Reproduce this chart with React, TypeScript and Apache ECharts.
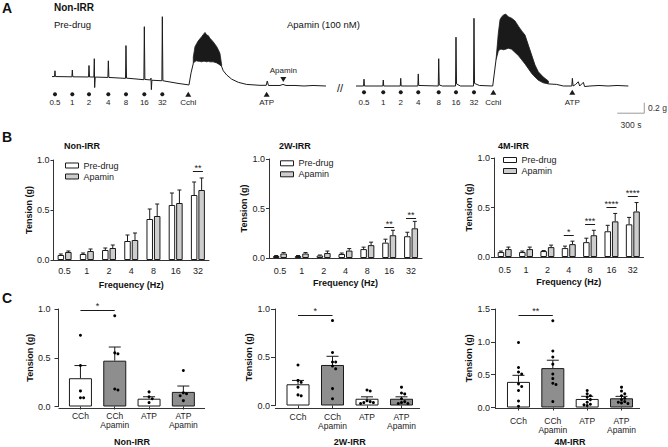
import React, { useEffect, useRef } from 'react';
import * as echarts from 'echarts';

const FONT = "'Liberation Sans', Arial, Helvetica, sans-serif";
const INK = '#1a1a1a';
const AXIS = '#333333';
const LIGHT_GREY = '#cdcdcd';
const DARK_GREY = '#8e8e8e';

// ---------------- Panel A: tension recordings (time in s, tension in g) ----------------
const stimFreqLabels = ['0.5', '1', '2', '4', '8', '16', '32'];

// Pre-drug recording
const preStimTimes = [33, 226, 411, 626, 822, 1026, 1226];
const preCchTime = 1514;
const preAtpTime = 2385;
const apaminAddTime = 2570;

const preTraceT = [0, 28, 33, 38, 221, 226, 231, 406, 411, 417, 465, 470, 474, 480, 621, 626, 632, 817, 822, 828, 1021, 1026, 1032, 1095, 1100, 1104, 1110, 1221, 1226, 1232, 1300, 1400, 1522, 1545, 1570];
const preTraceG = [0.18, 0.18, 0.29, 0.18, 0.175, 0.305, 0.175, 0.172, 0.39, 0.172, 0.17, 0.52, -0.03, 0.17, 0.163, 0.48, 0.163, 0.145, 0.77, 0.15, 0.12, 1.13, 0.125, 0.115, 0.15, -0.07, 0.11, 0.1, 1.32, 0.1, 0.08, 0.05, 0.02, 0.25, 0.43];

const preBurstT = [1570, 1589, 1608, 1625, 1644, 1663, 1681, 1700, 1719, 1736, 1755, 1792, 1830, 1848, 1866, 1885];
const preBurstHigh = [0.55, 0.75, 0.81, 0.86, 0.9, 0.94, 0.98, 1.02, 0.97, 0.96, 0.91, 0.84, 0.75, 0.69, 0.62, 0.4];
const preBurstLow = [0.43, 0.47, 0.48, 0.47, 0.47, 0.46, 0.47, 0.47, 0.46, 0.47, 0.46, 0.46, 0.44, 0.42, 0.4, 0.37];

const preTailT = [1885, 1903, 1941, 1997, 2070, 2163, 2311, 2380, 2392, 2405, 2533, 2566, 2600, 2700, 2800, 2900, 3044];
const preTailG = [0.37, 0.29, 0.21, 0.13, 0.07, 0.03, 0.013, 0.013, 0.095, 0.01, 0.01, 0.03, 0.01, 0.01, 0.0, 0.01, 0.0];

// Apamin recording
const apaStimTimes = [89, 303, 497, 692, 919, 1111, 1311];
const apaCchTime = 1526;
const apaAtpTime = 2403;

const apaTraceT = [0, 84, 89, 94, 298, 303, 308, 492, 497, 502, 687, 692, 697, 914, 919, 925, 960, 1106, 1111, 1117, 1160, 1306, 1311, 1317, 1370, 1519, 1556];
const apaTraceG = [0, 0, 0.13, 0, 0, 0.114, 0, 0, 0.146, 0, 0, 0.23, 0.01, 0, 0.52, 0.02, 0, 0, 0.93, 0.04, 0, 0, 1.29, 0.05, 0.01, 0, 0.5];

const apaBurstT = [1556, 1581, 1600, 1619, 1637, 1663, 1692, 1730, 1767, 1804, 1841, 1878, 1915, 1952, 1989, 2026, 2081, 2137];
const apaBurstHigh = [0.5, 1.0, 1.26, 1.32, 1.35, 1.37, 1.32, 1.29, 1.24, 1.14, 1.05, 0.97, 0.78, 0.59, 0.4, 0.27, 0.17, 0.095];
const apaBurstLow = [0.5, 0.66, 0.7, 0.7, 0.69, 0.7, 0.72, 0.7, 0.64, 0.58, 0.5, 0.42, 0.33, 0.24, 0.17, 0.11, 0.06, 0.04];

const apaTailT = [2137, 2230, 2304, 2398, 2404, 2412, 2440, 2470, 2485, 2526, 2540, 2600, 2700, 2800, 2900, 3026];
const apaTailG = [0.04, 0.03, 0.0, 0.0, 0.146, 0.0, 0.03, 0.08, 0.0, 0.07, -0.01, 0.0, 0.01, 0.0, 0.01, 0.0];

// scale bar
const SCALE_SECONDS = 300;
const SCALE_GRAMS = 0.2;

// ---------------- Panel B: frequency response (mean, SEM) ----------------
const freqCats = ['0.5', '1', '2', '4', '8', '16', '32'];

const bNonIrrPre = [0.05, 0.06, 0.1, 0.19, 0.41, 0.55, 0.65];
const bNonIrrPreSem = [0.01, 0.01, 0.02, 0.06, 0.1, 0.12, 0.13];
const bNonIrrApa = [0.08, 0.09, 0.12, 0.2, 0.44, 0.57, 0.7];
const bNonIrrApaSem = [0.01, 0.02, 0.03, 0.07, 0.12, 0.13, 0.12];
const bNonIrrSig = [{ at: '32', label: '**' }];

const b2wPre = [0.02, 0.02, 0.025, 0.04, 0.09, 0.155, 0.22];
const b2wPreSem = [0.005, 0.005, 0.005, 0.01, 0.02, 0.035, 0.04];
const b2wApa = [0.045, 0.045, 0.05, 0.075, 0.13, 0.23, 0.3];
const b2wApaSem = [0.01, 0.01, 0.02, 0.02, 0.03, 0.05, 0.07];
const b2wSig = [{ at: '16', label: '**' }, { at: '32', label: '**' }];

const b4mPre = [0.05, 0.05, 0.06, 0.09, 0.15, 0.26, 0.33];
const b4mPreSem = [0.01, 0.01, 0.005, 0.02, 0.04, 0.06, 0.07];
const b4mApa = [0.08, 0.08, 0.1, 0.13, 0.22, 0.36, 0.46];
const b4mApaSem = [0.02, 0.02, 0.02, 0.03, 0.05, 0.08, 0.09];
const b4mSig = [
  { at: '4', label: '*' },
  { at: '8', label: '***' },
  { at: '16', label: '****' },
  { at: '32', label: '****' },
];

// ---------------- Panel C: CCh / ATP responses ----------------
const cCats = ['CCh', 'CCh\nApamin', 'ATP', 'ATP\nApamin'];

const cNonIrrMean = [0.29, 0.47, 0.08, 0.15];
const cNonIrrSem = [0.13, 0.14, 0.02, 0.06];
const cNonIrrPoints = [
  [0.73, 0.42, 0.16, 0.09, 0.09],
  [0.93, 0.55, 0.54, 0.18, 0.17],
  [0.15, 0.1, 0.08, 0.04],
  [0.37, 0.14, 0.13, 0.11, 0.06],
];
const cNonIrrSig = '*';

const c2wMean = [0.22, 0.42, 0.07, 0.07];
const c2wSem = [0.04, 0.09, 0.02, 0.02];
const c2wPoints = [
  [0.42, 0.26, 0.24, 0.19, 0.11, 0.1],
  [0.88, 0.55, 0.45, 0.45, 0.41, 0.38, 0.175, 0.07],
  [0.16, 0.15, 0.05, 0.04, 0.03, 0.03, 0.02],
  [0.19, 0.13, 0.12, 0.07, 0.04, 0.03, 0.02, 0.02],
];
const c2wSig = '*';

const c4mMean = [0.39, 0.6, 0.13, 0.14];
const c4mSem = [0.1, 0.12, 0.04, 0.03];
const c4mPoints = [
  [0.99, 0.61, 0.54, 0.51, 0.36, 0.32, 0.26, 0.1, 0.02],
  [1.32, 0.86, 0.77, 0.66, 0.51, 0.44, 0.37, 0.35, 0.09],
  [0.26, 0.21, 0.18, 0.16, 0.12, 0.08, 0.05, 0.04, 0.03],
  [0.31, 0.25, 0.21, 0.18, 0.14, 0.12, 0.09, 0.08, 0.07, 0.06],
];
const c4mSig = '**';

// ---------------- layout ----------------
const A_TOP = 12.5;
const A_HEIGHT = 105;
const A_MIN = -0.6;
const A_MAX = 1.4;
const SEC_PER_PX = 300 / 27;
const A_LAYOUT = [
  { left: 52, width: 274, markG: -0.158, labelDist: 2.5 },
  { left: 356, width: 290, markG: -0.12, labelDist: 4.5 },
];

const B_LAYOUT = [
  { left: 53.5, top: 160, width: 155.5, height: 100, titleX: 64, legendLeft: 65, legendTop: 161, labelMargin: 6.5, sigGap: 7.5, yNameGap: 19 },
  { left: 269, top: 159, width: 153, height: 99, titleX: 279, legendLeft: 280, legendTop: 158.8, labelMargin: 8, sigGap: 3.5, yNameGap: 19 },
  { left: 494, top: 158, width: 149.5, height: 99, titleX: 498, legendLeft: 503, legendTop: 155.5, labelMargin: 8, sigGap: 6.5, yNameGap: 21 },
];

const C_LAYOUT = [
  { left: 63.3, top: 309, width: 137.2, height: 99, axisX: 58.5, axisEnd: 205, yMax: 1, labelMargin: 5, yLabelMargin: 8, nameGap: 30.5, yNameGap: 23.5 },
  { left: 280.75, top: 309, width: 138, height: 99, axisX: 275, axisEnd: 420, yMax: 1, labelMargin: 6.5, yLabelMargin: 5, nameGap: 31.5, yNameGap: 22 },
  { left: 501.3, top: 309, width: 137.4, height: 99, axisX: 495, axisEnd: 640, yMax: 1.5, labelMargin: 9, yLabelMargin: 5, nameGap: 29.5, yNameGap: 20.5 },
];

const B_BAR_WIDTH = 6.5;
const B_BAR_GAP = 0.15;

const pairs = (t: number[], g: number[]) => t.map((v, i) => [v, g[i]]);

function traceSeries(gi: number, t: number[], g: number[]) {
  return {
    type: 'line',
    xAxisIndex: gi,
    yAxisIndex: gi,
    data: pairs(t, g),
    showSymbol: false,
    symbol: 'none',
    silent: true,
    lineStyle: { color: INK, width: 1 },
    z: 3,
  };
}

function burstSeries(gi: number, t: number[], hi: number[], lo: number[]) {
  return {
    type: 'custom',
    xAxisIndex: gi,
    yAxisIndex: gi,
    silent: true,
    data: [[t[0], hi[0]]],
    renderItem: (_params: any, api: any) => {
      const pts: number[][] = [];
      t.forEach((v, i) => pts.push(api.coord([v, hi[i]])));
      for (let i = t.length - 1; i >= 0; i--) pts.push(api.coord([t[i], lo[i]]));
      return {
        type: 'polygon',
        shape: { points: pts },
        style: { fill: INK, stroke: INK, lineWidth: 0.8 },
      };
    },
    z: 3,
  };
}

const markLabel = (dist: number, position = 'bottom') => ({
  show: true,
  position,
  distance: dist,
  fontSize: 8,
  color: '#222',
  opacity: 1,
  fontFamily: FONT,
});

function stimSeries(gi: number, times: number[], markG: number, dist: number) {
  return {
    type: 'scatter',
    xAxisIndex: gi,
    yAxisIndex: gi,
    silent: true,
    symbol: 'circle',
    symbolSize: 4,
    itemStyle: { color: INK, opacity: 1 },
    data: times.map((t) => [t, markG]),
    label: { ...markLabel(dist), formatter: (p: any) => stimFreqLabels[p.dataIndex] },
  };
}

function drugSeries(gi: number, items: { name: string; t: number }[], markG: number, dist: number) {
  return {
    type: 'scatter',
    xAxisIndex: gi,
    yAxisIndex: gi,
    silent: true,
    symbol: 'triangle',
    symbolSize: [6, 5],
    itemStyle: { color: INK, opacity: 1 },
    data: items.map((d) => ({ name: d.name, value: [d.t, markG] })),
    label: { ...markLabel(dist), formatter: '{b}' },
  };
}

function errorBarSeries(gi: number, means: number[], sems: number[], offsetPx: number, capPx: number) {
  return {
    type: 'custom',
    xAxisIndex: gi,
    yAxisIndex: gi,
    silent: true,
    data: means.map((m, i) => [i, m, m + sems[i]]),
    encode: { x: 0, y: [1, 2] },
    renderItem: (_params: any, api: any) => {
      const base = api.coord([api.value(0), api.value(1)]);
      const top = api.coord([api.value(0), api.value(2)]);
      const x = base[0] + offsetPx;
      return {
        type: 'group',
        children: [
          { type: 'line', shape: { x1: x, y1: base[1], x2: x, y2: top[1] }, style: { stroke: INK, lineWidth: 1 } },
          { type: 'line', shape: { x1: x - capPx / 2, y1: top[1], x2: x + capPx / 2, y2: top[1] }, style: { stroke: INK, lineWidth: 1 } },
        ],
      };
    },
    z: 4,
  };
}

function sigText(x: number, y: number, label: string) {
  return {
    type: 'text',
    x,
    y,
    style: { text: label, fill: INK, fontSize: 9, fontFamily: FONT, align: 'center', verticalAlign: 'middle' },
  };
}

function pairSigSeries(gi: number, sigs: { at: string; label: string }[], pre: number[], preSem: number[], apa: number[], apaSem: number[], gapPx: number) {
  return {
    type: 'custom',
    xAxisIndex: gi,
    yAxisIndex: gi,
    silent: true,
    data: sigs.map((s) => {
      const i = freqCats.indexOf(s.at);
      return [i, Math.max(pre[i] + preSem[i], apa[i] + apaSem[i])];
    }),
    renderItem: (params: any, api: any) => {
      const p = api.coord([api.value(0), api.value(1)]);
      const ly = Math.round(p[1] - gapPx) + 0.5;
      return {
        type: 'group',
        children: [
          { type: 'line', shape: { x1: p[0] - 5, y1: ly, x2: p[0] + 5, y2: ly }, style: { stroke: INK, lineWidth: 1 } },
          sigText(p[0], ly - 4, sigs[params.dataIndex].label),
        ],
      };
    },
    z: 5,
  };
}

function swarmOffsets(values: number[], pxPerUnit: number, dotPx: number) {
  const order = values.map((_, i) => i).sort((a, b) => values[b] - values[a]);
  const placed: { y: number; dx: number }[] = [];
  const offsets = new Array(values.length).fill(0);
  const cands = [0, dotPx, -dotPx, 2 * dotPx, -2 * dotPx, 3 * dotPx, -3 * dotPx];
  for (const i of order) {
    const y = values[i] * pxPerUnit;
    const dx = cands.find((c) => placed.every((p) => Math.hypot(p.dx - c, p.y - y) >= dotPx)) ?? 0;
    placed.push({ y, dx });
    offsets[i] = dx;
  }
  return offsets;
}

function buildOption() {
  const grid: any[] = [];
  const xAxis: any[] = [];
  const yAxis: any[] = [];
  const series: any[] = [];
  const legend: any[] = [];
  const graphic: any[] = [];

  const txt = (x: number, y: number, text: string, size: number, opts: any = {}) => ({
    type: 'text',
    x,
    y,
    silent: true,
    style: {
      text,
      fontSize: size,
      fontFamily: FONT,
      fill: opts.fill || '#111',
      fontWeight: opts.bold ? 'bold' : 'normal',
      align: opts.align || 'left',
      verticalAlign: 'middle',
    },
  });

  // ---- Panel A ----
  A_LAYOUT.forEach((l) => {
    grid.push({ left: l.left, top: A_TOP, width: l.width, height: A_HEIGHT });
    const gi = grid.length - 1;
    xAxis.push({ type: 'value', gridIndex: gi, min: 0, max: l.width * SEC_PER_PX, show: false });
    yAxis.push({ type: 'value', gridIndex: gi, min: A_MIN, max: A_MAX, show: false });
  });

  series.push(traceSeries(0, preTraceT, preTraceG));
  series.push(burstSeries(0, preBurstT, preBurstHigh, preBurstLow));
  series.push(traceSeries(0, preTailT, preTailG));
  series.push(stimSeries(0, preStimTimes, A_LAYOUT[0].markG, A_LAYOUT[0].labelDist));
  series.push(drugSeries(0, [{ name: 'Cchl', t: preCchTime }, { name: 'ATP', t: preAtpTime }], A_LAYOUT[0].markG, A_LAYOUT[0].labelDist - 0.5));
  series.push({
    type: 'scatter',
    xAxisIndex: 0,
    yAxisIndex: 0,
    silent: true,
    symbol: 'triangle',
    symbolRotate: 180,
    symbolSize: [6, 5],
    itemStyle: { color: INK, opacity: 1 },
    data: [{ name: 'Apamin', value: [apaminAddTime, 0.124] }],
    label: { ...markLabel(2, 'top'), formatter: '{b}' },
  });

  series.push(traceSeries(1, apaTraceT, apaTraceG));
  series.push(burstSeries(1, apaBurstT, apaBurstHigh, apaBurstLow));
  series.push(traceSeries(1, apaTailT, apaTailG));
  series.push(stimSeries(1, apaStimTimes, A_LAYOUT[1].markG, A_LAYOUT[1].labelDist));
  series.push(drugSeries(1, [{ name: 'Cchl', t: apaCchTime }, { name: 'ATP', t: apaAtpTime }], A_LAYOUT[1].markG, A_LAYOUT[1].labelDist - 0.5));

  // scale bar (0.2 g x 300 s)
  const sbEnd = 3203;
  const sbTop = -0.318;
  series.push({
    type: 'line',
    xAxisIndex: 1,
    yAxisIndex: 1,
    silent: true,
    symbol: 'none',
    data: [
      [sbEnd, sbTop],
      [sbEnd, sbTop - SCALE_GRAMS],
      [sbEnd - SCALE_SECONDS, sbTop - SCALE_GRAMS],
    ],
    lineStyle: { color: '#9a9a9a', width: 1 },
  });

  graphic.push(txt(2, 8, 'A', 14, { bold: true }));
  graphic.push(txt(54, 7.5, 'Non-IRR', 10, { bold: true }));
  graphic.push(txt(54, 24, 'Pre-drug', 9.5));
  graphic.push(txt(287, 24, 'Apamin (100 nM)', 9.5));
  graphic.push(txt(340, 88, '//', 11, { align: 'center' }));
  graphic.push(txt(648, 108, '0.2 g', 8.5, { fill: '#333' }));
  graphic.push(txt(631, 125, '300 s', 8.5, { fill: '#333', align: 'center' }));

  // ---- Panel B ----
  const bPanels = [
    { title: 'Non-IRR', pre: bNonIrrPre, preSem: bNonIrrPreSem, apa: bNonIrrApa, apaSem: bNonIrrApaSem, sig: bNonIrrSig },
    { title: '2W-IRR', pre: b2wPre, preSem: b2wPreSem, apa: b2wApa, apaSem: b2wApaSem, sig: b2wSig },
    { title: '4M-IRR', pre: b4mPre, preSem: b4mPreSem, apa: b4mApa, apaSem: b4mApaSem, sig: b4mSig },
  ];
  const barOffset = (B_BAR_WIDTH * (1 + B_BAR_GAP)) / 2;

  bPanels.forEach((p, k) => {
    const l = B_LAYOUT[k];
    grid.push({ left: l.left, top: l.top, width: l.width, height: l.height });
    const gi = grid.length - 1;
    xAxis.push({
      type: 'category',
      gridIndex: gi,
      data: freqCats,
      axisLine: { lineStyle: { color: AXIS, width: 1 } },
      axisTick: { alignWithLabel: true, interval: 0, length: 2, lineStyle: { color: AXIS } },
      axisLabel: { interval: 0, fontSize: 9, color: '#222', margin: l.labelMargin, fontFamily: FONT },
      name: 'Frequency (Hz)',
      nameLocation: 'middle',
      nameGap: 20.5,
      nameTextStyle: { fontSize: 9, fontWeight: 'bold', color: '#111', fontFamily: FONT },
    });
    yAxis.push({
      type: 'value',
      gridIndex: gi,
      min: 0,
      max: 1,
      interval: 0.5,
      axisLine: { show: true, lineStyle: { color: AXIS, width: 1 } },
      axisTick: { show: true, length: 3, lineStyle: { color: AXIS } },
      axisLabel: { fontSize: 9, color: '#222', margin: 4, fontFamily: FONT, formatter: (v: number) => v.toFixed(1) },
      splitLine: { show: false },
      name: 'Tension (g)',
      nameLocation: 'middle',
      nameRotate: 90,
      nameGap: l.yNameGap,
      nameTextStyle: { fontSize: 9, fontWeight: 'bold', color: '#111', fontFamily: FONT },
    });
    series.push({
      type: 'bar',
      name: 'Pre-drug',
      xAxisIndex: gi,
      yAxisIndex: gi,
      data: p.pre,
      barWidth: B_BAR_WIDTH,
      barGap: `${B_BAR_GAP * 100}%`,
      itemStyle: { color: '#ffffff', borderColor: INK, borderWidth: 1 },
      silent: true,
    });
    series.push({
      type: 'bar',
      name: 'Apamin',
      xAxisIndex: gi,
      yAxisIndex: gi,
      data: p.apa,
      barWidth: B_BAR_WIDTH,
      barGap: `${B_BAR_GAP * 100}%`,
      itemStyle: { color: LIGHT_GREY, borderColor: INK, borderWidth: 1 },
      silent: true,
    });
    series.push(errorBarSeries(gi, p.pre, p.preSem, -barOffset, 4));
    series.push(errorBarSeries(gi, p.apa, p.apaSem, barOffset, 4));
    series.push(pairSigSeries(gi, p.sig, p.pre, p.preSem, p.apa, p.apaSem, l.sigGap));

    legend.push({
      left: l.legendLeft,
      top: l.legendTop,
      orient: 'vertical',
      icon: 'rect',
      itemWidth: 13,
      itemHeight: 5,
      itemGap: 2,
      selectedMode: false,
      padding: 0,
      textStyle: { fontSize: 9, color: '#222', lineHeight: 9, fontFamily: FONT },
      data: [
        { name: 'Pre-drug', itemStyle: { color: '#ffffff', borderColor: INK, borderWidth: 1 } },
        { name: 'Apamin', itemStyle: { color: LIGHT_GREY, borderColor: INK, borderWidth: 1 } },
      ],
    });
    graphic.push(txt(l.titleX, 146, p.title, 9, { bold: true }));
  });
  graphic.push(txt(2, 137, 'B', 14, { bold: true }));

  // ---- Panel C ----
  const cPanels = [
    { title: 'Non-IRR', mean: cNonIrrMean, sem: cNonIrrSem, pts: cNonIrrPoints, sig: cNonIrrSig },
    { title: '2W-IRR', mean: c2wMean, sem: c2wSem, pts: c2wPoints, sig: c2wSig },
    { title: '4M-IRR', mean: c4mMean, sem: c4mSem, pts: c4mPoints, sig: c4mSig },
  ];
  const cFills = ['#ffffff', DARK_GREY, '#ffffff', DARK_GREY];

  cPanels.forEach((p, k) => {
    const l = C_LAYOUT[k];
    grid.push({ left: l.left, top: l.top, width: l.width, height: l.height });
    const gi = grid.length - 1;
    xAxis.push({
      type: 'category',
      gridIndex: gi,
      data: cCats,
      axisLine: { show: false },
      axisTick: { show: true, alignWithLabel: true, interval: 0, length: 3, lineStyle: { color: AXIS } },
      axisLabel: { interval: 0, fontSize: 8.5, lineHeight: 9, color: '#222', margin: l.labelMargin, fontFamily: FONT },
      name: p.title,
      nameLocation: 'middle',
      nameGap: l.nameGap,
      nameTextStyle: { fontSize: 9, fontWeight: 'bold', color: '#111', fontFamily: FONT },
    });
    yAxis.push({
      type: 'value',
      gridIndex: gi,
      min: 0,
      max: l.yMax,
      interval: 0.5,
      offset: l.left - l.axisX,
      axisLine: { show: true, lineStyle: { color: AXIS, width: 1 } },
      axisTick: { show: true, length: 4, lineStyle: { color: AXIS } },
      axisLabel: { fontSize: 9, color: '#222', margin: l.yLabelMargin, fontFamily: FONT, formatter: (v: number) => v.toFixed(1) },
      splitLine: { show: false },
      name: 'Tension (g)',
      nameLocation: 'middle',
      nameRotate: 90,
      nameGap: l.yNameGap,
      nameTextStyle: { fontSize: 9, fontWeight: 'bold', color: '#111', fontFamily: FONT },
    });
    series.push({
      type: 'bar',
      name: `${p.title} response`,
      xAxisIndex: gi,
      yAxisIndex: gi,
      barWidth: 23,
      silent: true,
      data: p.mean.map((m, i) => ({ value: m, itemStyle: { color: cFills[i], borderColor: INK, borderWidth: 1 } })),
    });
    series.push(errorBarSeries(gi, p.mean, p.sem, 0, 12));

    const pxPerUnit = l.height / l.yMax;
    const dots: any[] = [];
    p.pts.forEach((vals, ci) => {
      const offs = swarmOffsets(vals, pxPerUnit, 3.2);
      vals.forEach((v, j) => dots.push({ value: [ci, v], symbolOffset: [offs[j], 0] }));
    });
    series.push({
      type: 'scatter',
      xAxisIndex: gi,
      yAxisIndex: gi,
      silent: true,
      symbol: 'circle',
      symbolSize: 3,
      itemStyle: { color: '#000', opacity: 1 },
      data: dots,
      z: 6,
    });

    const top = Math.max(...p.pts[0], ...p.pts[1]);
    series.push({
      type: 'custom',
      xAxisIndex: gi,
      yAxisIndex: gi,
      silent: true,
      data: [[0, top]],
      renderItem: (_params: any, api: any) => {
        const a = api.coord([0, api.value(1)]);
        const b = api.coord([1, api.value(1)]);
        const ly = Math.round(a[1] - 6) + 0.5;
        return {
          type: 'group',
          children: [
            { type: 'line', shape: { x1: a[0], y1: ly, x2: b[0], y2: ly }, style: { stroke: INK, lineWidth: 1 } },
            sigText((a[0] + b[0]) / 2, ly - 5, p.sig),
          ],
        };
      },
      z: 5,
    });

    const by = Math.round(l.top + l.height) + 0.5;
    graphic.push({
      type: 'line',
      silent: true,
      shape: { x1: l.axisX, y1: by, x2: l.axisEnd, y2: by },
      style: { stroke: AXIS, lineWidth: 1 },
    });
  });
  graphic.push(txt(2, 298, 'C', 14, { bold: true }));

  return {
    animation: false,
    backgroundColor: '#ffffff',
    textStyle: { fontFamily: FONT },
    grid,
    xAxis,
    yAxis,
    legend,
    series,
    graphic,
  };
}

export default function App() {
  const ref = useRef<HTMLDivElement>(null);
  useEffect(() => {
    document.body.style.margin = '0';
    if (!ref.current) return;
    const chart = echarts.init(ref.current, undefined, { renderer: 'svg' });
    chart.setOption(buildOption() as any);
    return () => chart.dispose();
  }, []);
  return <div ref={ref} style={{ width: 668, height: 447 }} />;
}
